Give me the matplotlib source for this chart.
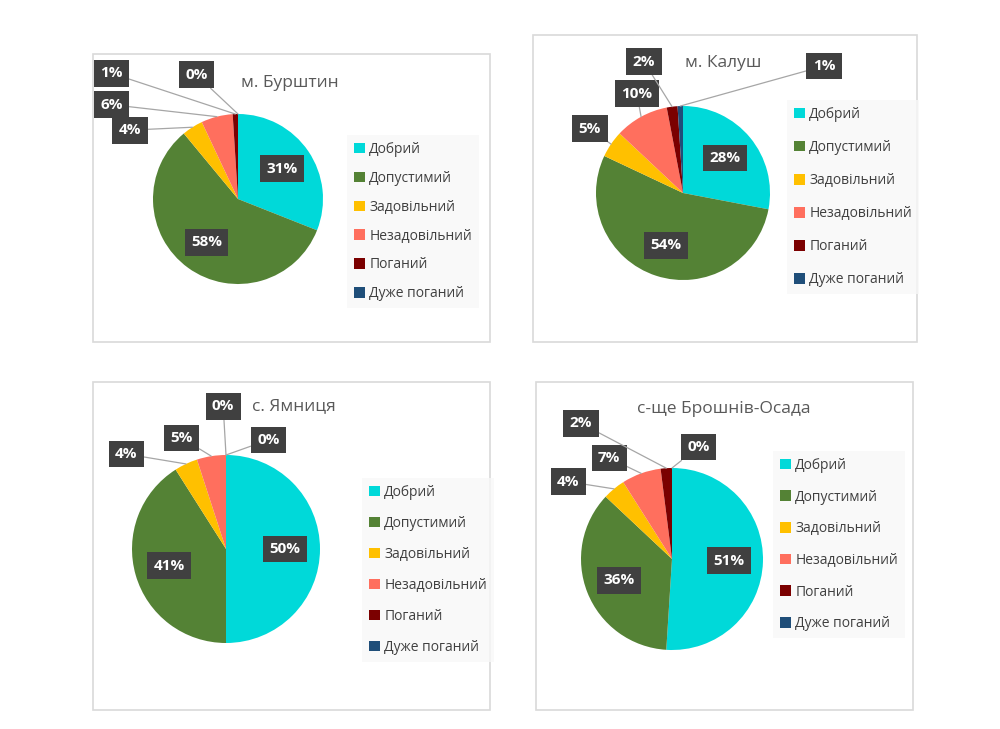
import numpy as np
import matplotlib
matplotlib.use("Agg")
import matplotlib.pyplot as plt
from matplotlib.patches import Rectangle, Patch

plt.rcParams['font.family'] = ['Open Sans', 'DejaVu Sans']

categories = ['Добрий', 'Допустимий', 'Задовільний', 'Незадовільний', 'Поганий', 'Дуже поганий']
colors = ['#00D9D9', '#548235', '#FFC000', '#FF6F5E', '#7B0000', '#1F4E79']

titles = ['м. Бурштин', 'м. Калуш', 'с. Ямниця', 'с-ще Брошнів-Осада']
burshtyn = [31, 58, 4, 6, 1, 0]
kalush = [28, 54, 5, 10, 2, 1]
yamnytsia = [50, 41, 4, 5, 0, 0]
broshniv = [51, 36, 4, 7, 2, 0]
panel_values = [burshtyn, kalush, yamnytsia, broshniv]

W, H = 1000, 729

# layout, in pixels of the output image (x, y from top-left)
frames = [(93, 54, 490, 342), (533, 35, 917, 342), (93, 382, 490, 710), (536, 382, 913, 710)]
centers = [(238, 199, 85), (683, 193, 87), (226, 549, 94), (672, 559, 91)]
title_pos = [(290, 83), (723, 63), (294, 406), (724, 409)]
legend_pos = [(347, 135, 1.0), (787, 100, 1.3), (362, 478, 1.15), (773, 451, 1.2)]
# outside label positions in pie radii, None -> inside the slice
outside = [
    [None, None, (-1.27, 0.81), (-1.49, 1.11), (-1.49, 1.48), (-0.49, 1.46)],
    [None, None, (-1.07, 0.74), (-0.53, 1.14), (-0.45, 1.51), (1.62, 1.46)],
    [None, None, (-1.06, 1.01), (-0.47, 1.18), (-0.03, 1.52), (0.45, 1.16)],
    [None, None, (-1.14, 0.85), (-0.69, 1.11), (-1.00, 1.49), (0.29, 1.23)],
]

fig = plt.figure(figsize=(W / 100, H / 100), dpi=100)
fig.patch.set_facecolor('white')

box = dict(boxstyle='square,pad=0.42', fc='#404040', ec='none')

for k in range(4):
    x0, y0, x1, y1 = frames[k]
    fig.add_artist(Rectangle((x0 / W, 1 - y1 / H), (x1 - x0) / W, (y1 - y0) / H,
                             transform=fig.transFigure, fill=False, ec='#d9d9d9', lw=1.2))

    cx, cy, r = centers[k]
    ax = fig.add_axes([(cx - r) / W, 1 - (cy + r) / H, 2 * r / W, 2 * r / H])
    vals = panel_values[k]
    ax.pie(vals, colors=colors, startangle=90, counterclock=False, radius=1,
           wedgeprops=dict(linewidth=0))
    ax.set_xlim(-1, 1)
    ax.set_ylim(-1, 1)
    ax.set_aspect('equal')
    ax.axis('off')

    total = float(sum(vals))
    cum = 0.0
    for i, v in enumerate(vals):
        mid = np.deg2rad(90 - 360 * (cum + v / 2) / total)
        cum += v
        txt = f'{v:.0f}%'
        pos = outside[k][i]
        if pos is None:
            ax.text(0.63 * np.cos(mid), 0.63 * np.sin(mid), txt, ha='center', va='center',
                    color='white', fontsize=11, fontweight='bold', bbox=box)
        else:
            ax.annotate(txt, xy=(np.cos(mid), np.sin(mid)), xytext=pos,
                        ha='center', va='center', color='white', fontsize=11,
                        fontweight='bold', bbox=box, annotation_clip=False,
                        arrowprops=dict(arrowstyle='-', color='#a6a6a6', lw=0.9,
                                        shrinkA=0, shrinkB=0))

    tx, ty = title_pos[k]
    fig.text(tx / W, 1 - ty / H, titles[k], ha='center', va='center',
             fontsize=12.5, color='#595959')

    lx, ly, sp = legend_pos[k]
    handles = [Patch(facecolor=c, edgecolor='none') for c in colors]
    leg = fig.legend(handles, categories, loc='upper left',
                     bbox_to_anchor=(lx / W, 1 - ly / H), bbox_transform=fig.transFigure,
                     frameon=True, fontsize=10, labelspacing=sp, handlelength=0.8,
                     handleheight=0.8, handletextpad=0.3, borderpad=0.5,
                     borderaxespad=0, fancybox=False)
    leg.get_frame().set_facecolor('#f8f8f8')
    leg.get_frame().set_edgecolor('none')
    for t in leg.get_texts():
        t.set_color('#404040')

fig.savefig('out.png', dpi=100, facecolor='white')
